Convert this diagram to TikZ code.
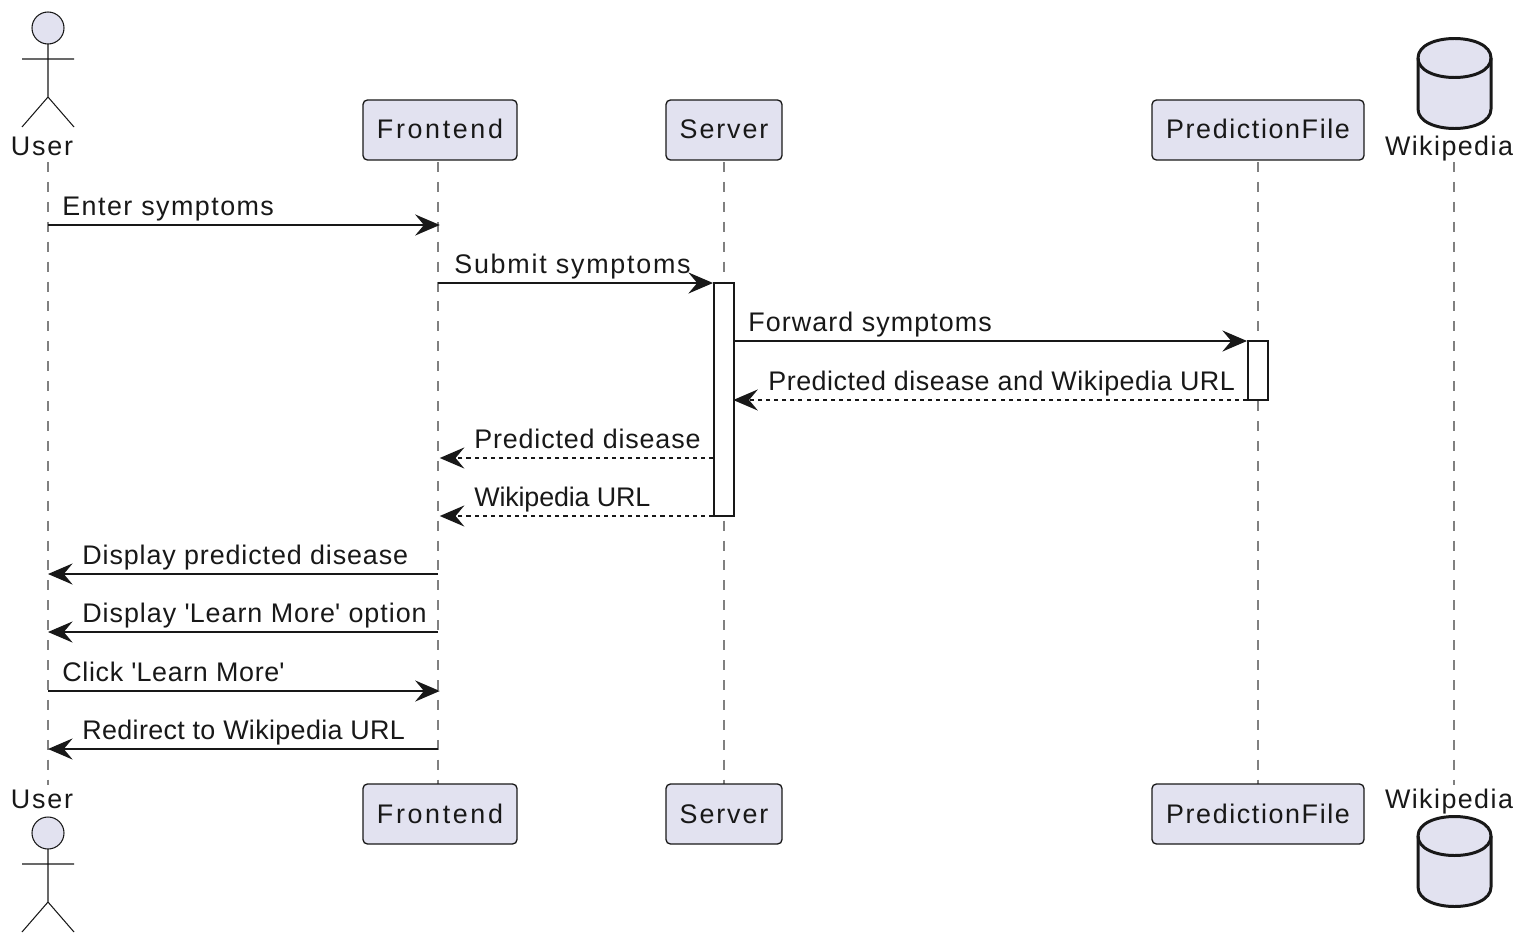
\documentclass[tikz,border=0pt]{standalone}
\usepackage{fontspec}
\setmainfont{Liberation Sans}
\usetikzlibrary{arrows.meta}
\definecolor{partfill}{HTML}{E2E2F0}
\definecolor{ink}{HTML}{181818}
\begin{document}
\begin{tikzpicture}[x=0.02cm, y=-0.02cm, line cap=butt,
    txt/.style={inner sep=0pt, text=ink, font=\fontsize{15.3pt}{18pt}\selectfont\addfontfeature{LetterSpace=#1}},
    part/.style={txt=#1, draw=ink, line width=0.75pt, fill=partfill, rounded corners=2.5pt, minimum height=1.2cm, text height=0.36cm, text depth=0pt},
    life/.style={draw=ink!55, line width=1.1pt, dash pattern=on 5.67pt off 5.67pt},
    msg/.style={draw=ink, line width=1.15pt, -{Stealth[length=14pt, width=12pt, inset=5pt]}},
    ret/.style={msg, dash pattern=on 2.3pt off 2.3pt},
    act/.style={draw=ink, line width=1.15pt, fill=white, minimum width=0.4cm, inner sep=0pt},
    lab/.style={txt=#1, anchor=base west}]
    \useasboundingbox (0,0) rectangle (1528,946);
    % lifelines
    \coordinate (user) at (48,162);
    \coordinate (front) at (438,162);
    \coordinate (serv) at (724,162);
    \coordinate (pred) at (1258,162);
    \coordinate (wiki) at (1454,162);
    \coordinate (userend) at (48,785);
    \coordinate (frontend) at (438,785);
    \coordinate (servend) at (724,785);
    \coordinate (predend) at (1258,785);
    \coordinate (wikiend) at (1454,785);
    \draw[life] (user) -- (userend);
    \draw[life] (front) -- (frontend);
    \draw[life] (serv) -- (servend);
    \draw[life] (pred) -- (predend);
    \draw[life] (wiki) -- (wikiend);
    % boxes
    \node[part=9.8, minimum width=3.08cm] (fronttop) at (440,130) {Frontend};
    \node[part=7, minimum width=2.32cm] (servtop) at (724,130) {Server};
    \node[part=6, minimum width=4.24cm] (predtop) at (1258,130) {PredictionFile};
    \node[part=9.8, minimum width=3.08cm] (frontbot) at (440,814) {Frontend};
    \node[part=7, minimum width=2.32cm] (servbot) at (724,814) {Server};
    \node[part=6, minimum width=4.24cm] (predbot) at (1258,814) {PredictionFile};
    % actors
    \foreach \y in {0,805} {
        \draw[draw=ink, line width=0.6pt, fill=partfill] (48,28+\y) circle (16);
        \draw[draw=ink, line width=0.6pt] (48,44+\y) -- (48,97+\y) (22,59+\y) -- (74,59+\y)
            (22,127+\y) -- (48,97+\y) -- (74,127+\y);
    }
    \node[txt=7, anchor=base] (usertop) at (42,155.5) {User};
    \node[txt=7, anchor=base] (userbot) at (42,808.5) {User};
    % database
    \node[txt=5.3, anchor=base] (wikitop) at (1449,155.5) {Wikipedia};
    \node[txt=5.3, anchor=base] (wikibot) at (1449,808.5) {Wikipedia};
    \foreach \y in {0,778} {
        \draw[draw=ink, line width=1.7pt, fill=partfill] (1418,58+\y) .. controls (1418,32+\y) and (1491,32+\y) .. (1491,58+\y)
            -- (1491,109+\y) .. controls (1491,135+\y) and (1418,135+\y) .. (1418,109+\y) -- cycle;
        \draw[draw=ink, line width=1.7pt] (1418,58+\y) .. controls (1418,84+\y) and (1491,84+\y) .. (1491,58+\y);
    }
    % activations
    \node[act, minimum height=4.66cm] (servact) at (724,399.5) {};
    \node[act, minimum height=1.18cm] (predact) at (1258,370.5) {};
    % rows
    \coordinate (r1) at (0,225);
    \coordinate (r2) at (0,283);
    \coordinate (r3) at (0,341);
    \coordinate (r4) at (0,400);
    \coordinate (r5) at (0,458);
    \coordinate (r6) at (0,516);
    \coordinate (r7) at (0,574);
    \coordinate (r8) at (0,632);
    \coordinate (r9) at (0,691);
    \coordinate (r10) at (0,749);
    % messages
    \draw[msg] (user |- r1) -- ([xshift=1] front |- r1);
    \draw[msg] (front |- r2) -- (servact.west |- r2);
    \draw[msg] (servact.east |- r3) -- (predact.west |- r3);
    \draw[ret] (predact.west |- r4) -- ([xshift=-1] servact.east |- r4);
    \draw[ret] (servact.west |- r5) -- ([xshift=1] front |- r5);
    \draw[ret] (servact.west |- r6) -- ([xshift=1] front |- r6);
    \draw[msg] (front |- r7) -- (user |- r7);
    \draw[msg] (front |- r8) -- (user |- r8);
    \draw[msg] (user |- r9) -- ([xshift=1] front |- r9);
    \draw[msg] (front |- r10) -- (user |- r10);
    % labels
    \node[lab=5.4] (l1) at (62,215) {Enter symptoms};
    \node[lab=6.5] (l2) at (454,273) {Submit symptoms};
    \node[lab=4] (l3) at (748,331) {Forward symptoms};
    \node[lab=1.9] (l4) at (768,390) {Predicted disease and Wikipedia URL};
    \node[lab=3.1] (l5) at (474,448) {Predicted disease};
    \node[lab=-0.6] (l6) at (474,506) {Wikipedia URL};
    \node[lab=3.3] (l7) at (82,564) {Display predicted disease};
    \node[lab=3.6] (l8) at (82,622) {Display \textquotesingle Learn More\textquotesingle{} option};
    \node[lab=2.5] (l9) at (62,681) {Click \textquotesingle Learn More\textquotesingle};
    \node[lab=1.3] (l10) at (82,739) {Redirect to Wikipedia URL};
\end{tikzpicture}
\end{document}
